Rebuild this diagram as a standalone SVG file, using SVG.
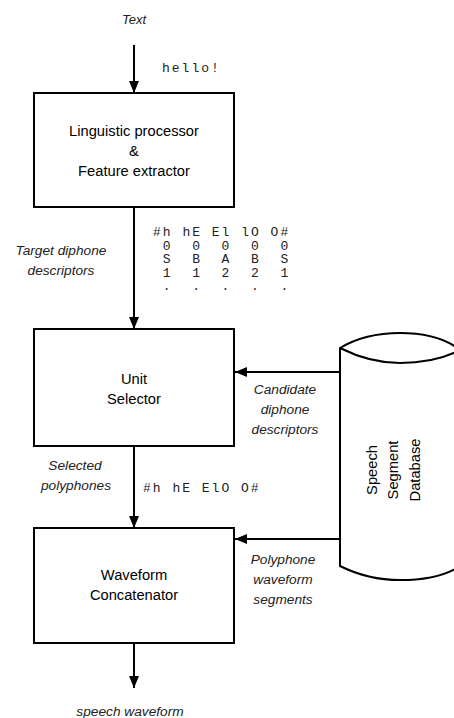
<svg xmlns="http://www.w3.org/2000/svg" width="454" height="718" viewBox="0 0 454 718">
<defs>
<marker id="ah" markerWidth="12" markerHeight="10" refX="12" refY="5" orient="auto" markerUnits="userSpaceOnUse">
<path d="M0,0 L12,5 L0,10 Z" fill="#000"/>
</marker>
<style>
.box{fill:#fff;stroke:#000;stroke-width:2}
.ln{fill:none;stroke:#000;stroke-width:2;marker-end:url(#ah)}
.bt{font-family:"Liberation Sans",Arial,sans-serif;font-size:14.7px;text-anchor:middle;fill:#000}
.it{font-family:"Liberation Sans",Arial,sans-serif;font-size:13.7px;font-style:italic;text-anchor:middle;fill:#222}
.mo{font-family:"Liberation Mono","Courier New",monospace;font-size:13px;letter-spacing:2px;fill:#222;white-space:pre}
</style>
</defs>
<rect width="454" height="718" fill="#fff"/>
<g id="connectors">
<line class="ln" x1="134" y1="45" x2="134" y2="93"/>
<line class="ln" x1="134" y1="207" x2="134" y2="329"/>
<line class="ln" x1="134" y1="446" x2="134" y2="528"/>
<line class="ln" x1="134" y1="643" x2="134" y2="688"/>
<line class="ln" x1="340" y1="372" x2="235" y2="372"/>
<line class="ln" x1="340" y1="539" x2="235" y2="539"/>
</g>
<g id="labels">
<text class="it" x="134" y="24" style="font-size:13px">Text</text>
<text class="mo" x="162" y="72">hello!</text>
<text class="it" x="61" y="255">Target diphone</text>
<text class="it" x="61" y="275">descriptors</text>
<text class="mo" x="153" y="236">#h hE El lO O#</text>
<text class="mo" x="153" y="249.5"> 0  0  0  0  0</text>
<text class="mo" x="153" y="263"> S  B  A  B  S</text>
<text class="mo" x="153" y="276.5"> 1  1  2  2  1</text>
<text class="mo" x="153" y="290"> .  .  .  .  .</text>
<text class="it" x="285" y="394">Candidate</text>
<text class="it" x="285" y="414">diphone</text>
<text class="it" x="285" y="434">descriptors</text>
<text class="it" x="75" y="470">Selected</text>
<text class="it" x="76" y="490">polyphones</text>
<text class="mo" x="143" y="492">#h hE ElO O#</text>
<text class="it" x="283" y="564">Polyphone</text>
<text class="it" x="283" y="584">waveform</text>
<text class="it" x="283" y="604">segments</text>
<text class="it" x="130" y="716">speech waveform</text>
</g>
<g id="linguistic">
<rect class="box" x="34" y="93" width="200" height="114"/>
<text class="bt" x="134" y="136">Linguistic processor</text>
<text class="bt" x="134" y="156">&amp;</text>
<text class="bt" x="134" y="176">Feature extractor</text>
</g>
<g id="selector">
<rect class="box" x="34" y="329" width="200" height="117"/>
<text class="bt" x="134" y="384">Unit</text>
<text class="bt" x="134" y="404">Selector</text>
</g>
<g id="concatenator">
<rect class="box" x="34" y="528" width="200" height="115"/>
<text class="bt" x="134" y="580">Waveform</text>
<text class="bt" x="134" y="600">Concatenator</text>
</g>
<g id="database">
<path d="M340,348 C360,336 380,333 400,333 C425,333 445,338 460,350 L460,566 C445,576 425,580 400,580 C380,580 360,576 340,566 Z" fill="#fff" stroke="#000" stroke-width="2"/>
<path d="M340,348 C360,358 380,363 400,363 C425,363 445,358 460,350" fill="none" stroke="#000" stroke-width="2"/>
<g transform="translate(400,470) rotate(-90)">
<text class="bt" x="0" y="-23">Speech</text>
<text class="bt" x="0" y="-2">Segment</text>
<text class="bt" x="0" y="20">Database</text>
</g>
</g>
</svg>
